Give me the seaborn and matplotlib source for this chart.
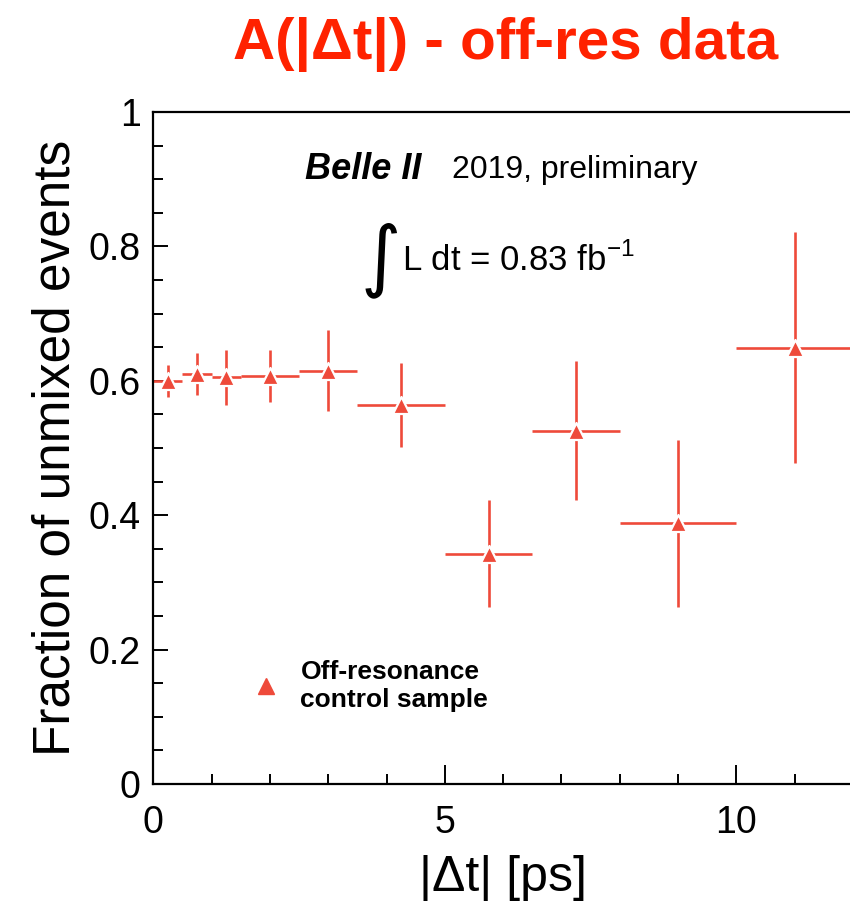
import numpy as np
import pandas as pd
import matplotlib
matplotlib.use("Agg")
import matplotlib.pyplot as plt
from matplotlib.lines import Line2D
from matplotlib.ticker import MultipleLocator
import seaborn as sns

# ---- data ----
dt_center = [0.25, 0.75, 1.25, 2.0, 3.0, 4.25, 5.75, 7.25, 9.0, 11.0]
dt_halfwidth = [0.25, 0.25, 0.25, 0.5, 0.5, 0.75, 0.75, 0.75, 1.0, 1.0]
frac_unmixed = [0.600, 0.610, 0.605, 0.607, 0.615, 0.564, 0.343, 0.526, 0.388, 0.649]
frac_err = [0.024, 0.031, 0.041, 0.039, 0.060, 0.062, 0.080, 0.104, 0.124, 0.172]

x_ticks = [0, 5, 10]
y_ticks = [0, 0.2, 0.4, 0.6, 0.8, 1]
y_tick_labels = ["0", "0.2", "0.4", "0.6", "0.8", "1"]

title_text = "A(|Δt|) - off-res data"
xlabel_text = "|Δt| [ps]"
ylabel_text = "Fraction of unmixed events"
legend_text = "Off-resonance\ncontrol sample"

df = pd.DataFrame({"dt": dt_center, "xerr": dt_halfwidth,
                   "frac": frac_unmixed, "yerr": frac_err})

sns.set_style("ticks")
plt.rcParams["font.family"] = ["Liberation Sans", "DejaVu Sans"]
plt.rcParams["text.color"] = "black"
plt.rcParams["axes.labelcolor"] = "black"
plt.rcParams["xtick.color"] = "black"
plt.rcParams["ytick.color"] = "black"

RED = "#EE4A3A"
TITLE_RED = "#FF2200"

fig = plt.figure(figsize=(8.5, 9.06), dpi=100)
ax = fig.add_axes([153.3 / 850, 1 - 784 / 906, (853 - 153.3) / 850, (784 - 112) / 906])

ax.errorbar(df["dt"], df["frac"], xerr=df["xerr"], yerr=df["yerr"],
            fmt="none", ecolor=RED, elinewidth=1.9, capsize=0, zorder=2)
sns.scatterplot(data=df, x="dt", y="frac", marker="^", s=150, color=RED,
                edgecolor="white", linewidth=1.6, ax=ax, zorder=3, legend=False)

ax.set_xlim(0, 12)
ax.set_ylim(0, 1)
ax.set_xticks(x_ticks)
ax.set_xticklabels([str(t) for t in x_ticks])
ax.set_yticks(y_ticks)
ax.set_yticklabels(y_tick_labels)
ax.xaxis.set_minor_locator(MultipleLocator(1))
ax.yaxis.set_minor_locator(MultipleLocator(0.05))
ax.tick_params(axis="both", which="both", direction="in", width=1.4, color="black",
               top=False, right=False)
ax.tick_params(axis="x", which="major", length=14, labelsize=27, pad=15)
ax.tick_params(axis="x", which="minor", length=7)
ax.tick_params(axis="y", which="major", length=11, labelsize=27, pad=9)
ax.tick_params(axis="y", which="minor", length=7)
for side in ["left", "bottom", "top"]:
    ax.spines[side].set_visible(True)
    ax.spines[side].set_linewidth(1.6)
    ax.spines[side].set_color("black")
ax.spines["right"].set_visible(False)

ax.set_xlabel(xlabel_text, fontsize=36, labelpad=10)
ax.set_ylabel(ylabel_text, fontsize=37, labelpad=6)

fig.text(506 / 850, 1 - 44 / 906, title_text, color=TITLE_RED, fontsize=42,
         fontweight="bold", ha="center", va="center")

ax.text(2.60, 0.914, "Belle II", fontsize=26, fontweight="bold", style="italic",
        ha="left", va="center")
ax.text(5.12, 0.914, "2019, preliminary", fontsize=23, ha="left", va="center")
ax.text(3.55, 0.78, "∫", fontsize=56, family="DejaVu Sans", ha="left", va="center")
ax.text(4.27, 0.78, "L dt = 0.83 fb$^{\\mathregular{-1}}$", fontsize=25,
        ha="left", va="center")

handle = Line2D([], [], marker="^", ls="none", color=RED, markersize=11)
ax.legend([handle], [legend_text], loc="center left",
          bbox_to_anchor=(253 / 850, 1 - 686 / 906), bbox_transform=fig.transFigure,
          frameon=False, handlelength=1.0, handletextpad=0.8, borderpad=0,
          borderaxespad=0, prop={"weight": "bold", "size": 19})

fig.savefig("out.png", dpi=100)
